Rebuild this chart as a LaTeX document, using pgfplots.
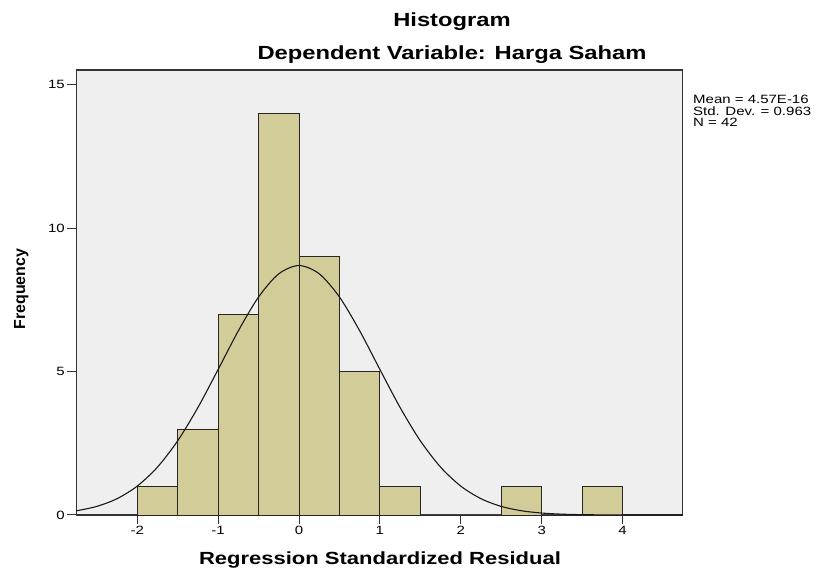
\documentclass[border=0pt]{standalone}
\usepackage{fontspec}
\setmainfont{Liberation Sans}[FakeStretch=1.25]
\newfontfamily\plainfont{Liberation Sans}
\usepackage{pgfplots}
\pgfplotsset{compat=1.18}
\definecolor{barfill}{RGB}{210,205,152}
\definecolor{bgray}{RGB}{239,239,239}
\begin{document}
\begin{tikzpicture}[x=1bp,y=1bp]
\path[use as bounding box] (0,0) rectangle (819,572);
\begin{axis}[
  at={(76.3bp,57bp)}, anchor=south west,
  scale only axis, width=606.4bp, height=445bp,
  xmin=-2.753, xmax=4.743, ymin=0, ymax=15.52,
  axis background/.style={fill=bgray},
  axis line style={draw=black!80, line width=1.3bp},
  xtick={-2,-1,0,1,2,3,4}, ytick={0,5,10,15},
  tick align=outside, xtick pos=bottom, ytick pos=left,
  major tick length=9bp,
  tick style={black!80, line width=1bp},
  /pgf/number format/assume math mode=true,
  ticklabel style={font=\fontsize{12bp}{14bp}\selectfont},
  xticklabel style={yshift=1bp},
  yticklabel style={xshift=1bp},
  clip=false,
]
\addplot[ybar interval, fill=barfill, draw=black!85, line width=0.9bp] coordinates {
(-2,1) (-1.5,3) (-1,7) (-0.5,14) (0,9) (0.5,5) (1,1) (1.5,0) (2,0) (2.5,1) (3,0) (3.5,1) (4,0)
};
\addplot[black!90, line width=1.1bp, smooth] coordinates {
(-2.753,0.145) (-2.5,0.2993) (-2.25,0.5678) (-2,1.0067) (-1.75,1.6687) (-1.5,2.5863)
(-1.25,3.7467) (-1,5.0743) (-0.75,6.4239) (-0.5,7.6029) (-0.25,8.4117) (0,8.70)
(0.25,8.4117) (0.5,7.6029) (0.75,6.4239) (1,5.0743) (1.25,3.7467) (1.5,2.5863)
(1.75,1.6687) (2,1.0067) (2.25,0.5678) (2.5,0.2993) (2.75,0.1475) (3,0.0679)
(3.25,0.0292) (3.5,0.0118) (3.75,0.0044) (4,0.0016) (4.25,0.0005) (4.5,0.0001) (4.743,0.0)
};
\end{axis}
\node[anchor=base, font=\bfseries\fontsize{19bp}{22bp}\selectfont] at (452,545) {Histogram};
\node[anchor=base, font=\bfseries\fontsize{19bp}{22bp}\selectfont] at (452,512) {Dependent Variable: Harga Saham};
\node[anchor=base, font=\bfseries\fontsize{17.6bp}{20bp}\selectfont] at (380,7) {Regression Standardized Residual};
\node[anchor=base, rotate=90, font=\plainfont\bfseries\fontsize{16bp}{19bp}\selectfont] at (25,283) {Frequency};
\node[anchor=north west, align=left, inner sep=0pt, font=\fontsize{12bp}{11.5bp}\selectfont] at (693,477) {Mean = 4.57E-16\\Std. Dev. = 0.963\\N = 42};
\end{tikzpicture}
\end{document}
